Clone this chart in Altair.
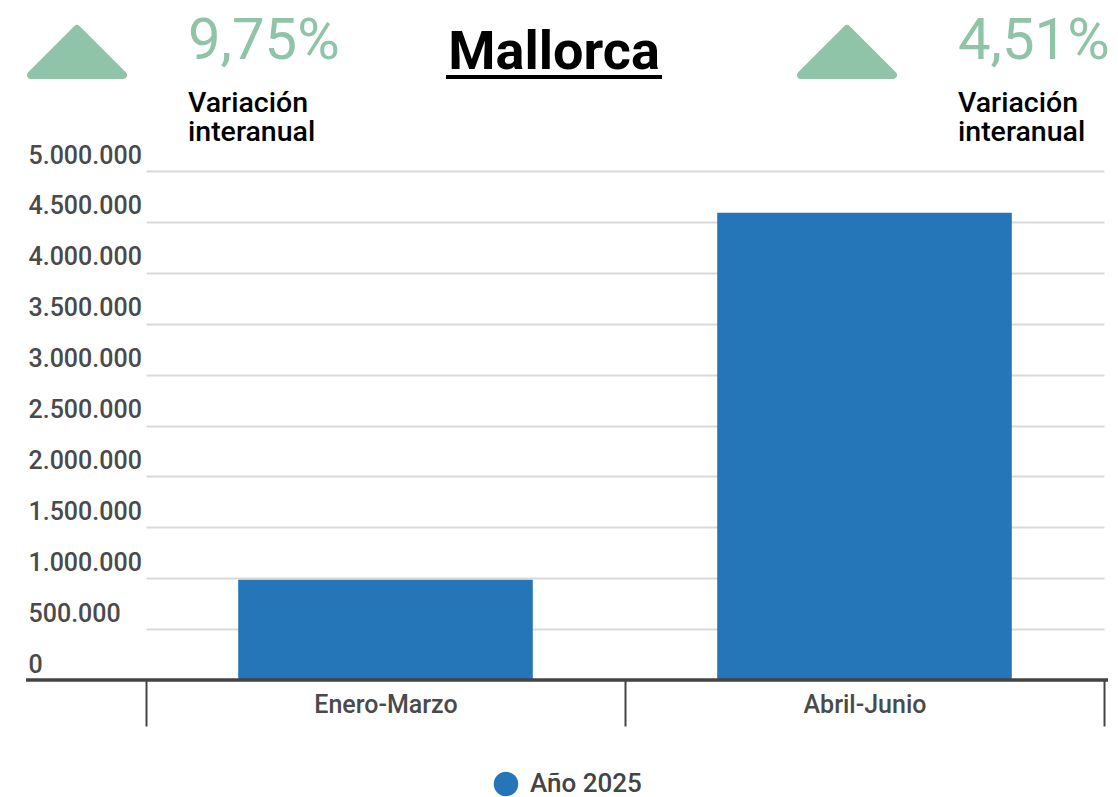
import altair as alt
import pandas as pd

# ---- data ----
periods = ["Enero-Marzo", "Abril-Junio"]
values = [985000, 4590000]
series = ["Año 2025", "Año 2025"]
y_ticks = [0, 500000, 1000000, 1500000, 2000000, 2500000, 3000000, 3500000, 4000000, 4500000, 5000000]
title_text = "Mallorca"
pct_labels = ["9,75%", "4,51%"]
sub_label = "Variación\ninteranual"

df = pd.DataFrame({"periodo": periods, "valor": values, "serie": series})

BLUE = "#2476b8"
GREEN = "#8fc4a8"
GRAY = "#444444"
FONT = "Roboto"
W, H = 1082, 509

bars = alt.Chart(df).mark_bar(color=BLUE, width=alt.RelativeBandSize(0.615)).encode(
    x=alt.X("periodo:N", sort=periods,
            scale=alt.Scale(range=[120, 1078], paddingInner=0, paddingOuter=0),
            axis=alt.Axis(title=None, labelAngle=0, domain=False, grid=False,
                          tickBand="extent", ticks=True, tickSize=46, tickWidth=2,
                          tickColor=GRAY, labelPadding=-34, labelFont=FONT,
                          labelFontSize=25, labelFontWeight=500, labelColor="#4a4a4a")),
    y=alt.Y("valor:Q", scale=alt.Scale(domain=[0, 5000000], nice=False),
            axis=alt.Axis(title=None, values=y_ticks, domain=False, ticks=False, tickSize=0,
                          grid=True, gridColor="#d9d9d9", gridWidth=2,
                          labelAlign="left", labelPadding=-2, labelBaseline="alphabetic",
                          labelOffset=-8, labelFont=FONT, labelFontSize=25,
                          labelFontWeight=500, labelColor="#4a4a4a",
                          labelExpr="replace(format(datum.value, ','), regexp(',', 'g'), '.')")),
    color=alt.Color("serie:N", scale=alt.Scale(domain=["Año 2025"], range=[BLUE]),
                    legend=alt.Legend(title=None, orient="none", legendX=467, legendY=600,
                                      symbolType="circle", symbolSize=600, padding=0,
                                      labelFont=FONT, labelFontSize=26, labelFontWeight=500,
                                      labelColor=GRAY, labelOffset=11, symbolStrokeWidth=0)),
)

baseline = alt.Chart(df).mark_rule(color=GRAY, strokeWidth=3).encode(
    x=alt.value(0), x2=alt.value(W), y=alt.value(H))


def one(text):
    return pd.DataFrame({"t": [text]})


title = alt.Chart(one(title_text)).mark_text(
    font=FONT, fontSize=54, fontWeight="bold", color="black", align="center",
    baseline="alphabetic").encode(x=alt.value(528), y=alt.value(-102), text="t:N")
underline = alt.Chart(one(title_text)).mark_rule(color="black", strokeWidth=4).encode(
    x=alt.value(420), x2=alt.value(636), y=alt.value(-94))

tri_path = "M-1,0.5L0,-0.5L1,0.5Z"


def triangle(xpos):
    return alt.Chart(one("t")).mark_point(
        shape=tri_path, filled=True, fill=GREEN, stroke=GREEN, strokeWidth=8,
        strokeJoin="round", size=8464, opacity=1).encode(
        x=alt.value(xpos), y=alt.value(-119))


def pct(text, xpos):
    return alt.Chart(one(text)).mark_text(
        font=FONT, fontSize=58, color=GREEN, align="left", baseline="alphabetic").encode(
        x=alt.value(xpos), y=alt.value(-112), text="t:N")


def sub(xpos):
    return alt.Chart(one(sub_label)).mark_text(
        font=FONT, fontSize=28.5, fontWeight=500, color="black", align="left",
        baseline="alphabetic", lineBreak="\n", lineHeight=29).encode(
        x=alt.value(xpos), y=alt.value(-59), text="t:N")


chart = alt.layer(
    bars, baseline, title, underline,
    triangle(51), pct(pct_labels[0], 162), sub(162),
    triangle(821), pct(pct_labels[1], 932), sub(932),
).properties(
    width=W, height=H,
    autosize=alt.AutoSizeParams(type="none"),
    padding={"left": 26, "top": 171, "right": 10, "bottom": 117},
    background="white",
).configure_view(stroke=None)

chart.save("out.html", embed_options={"renderer": "svg", "actions": False})
